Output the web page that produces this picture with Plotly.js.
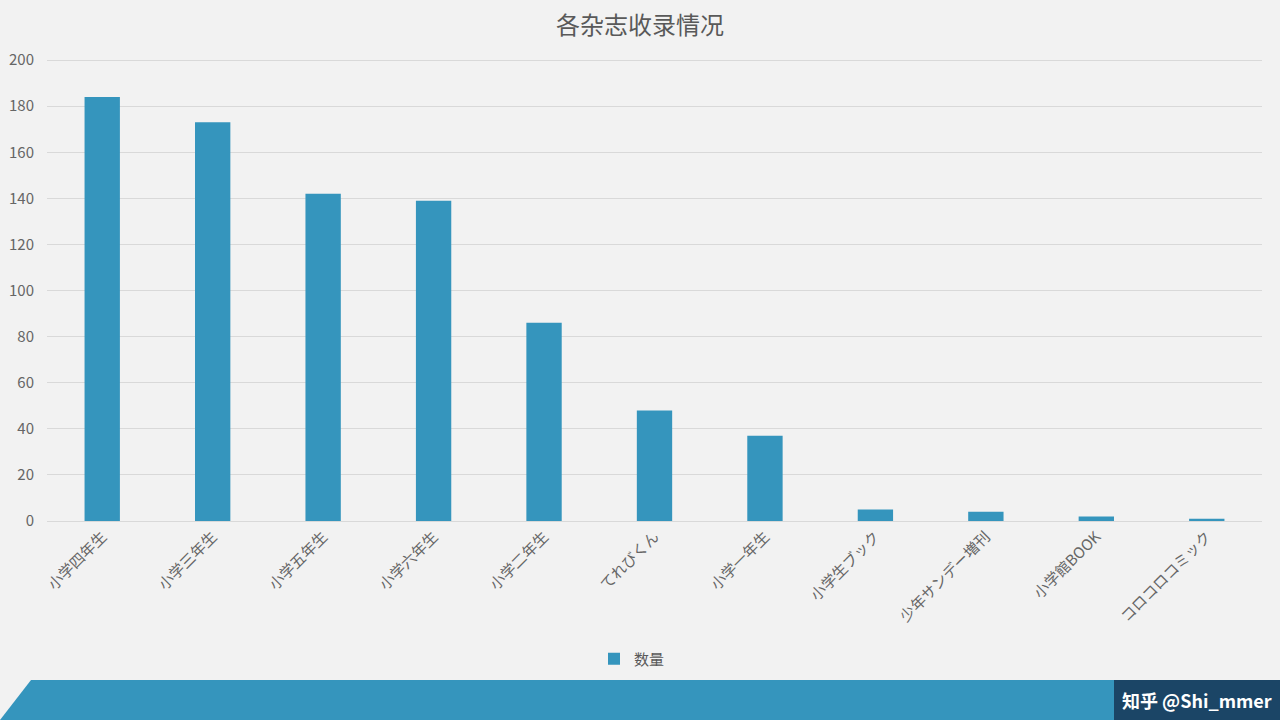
<!DOCTYPE html>
<html><head><meta charset="utf-8">
<script src="https://cdn.plot.ly/plotly-3.0.1.min.js"></script>
<style>html,body{margin:0;padding:0;background:#f2f2f2;}#chart{width:1280px;height:720px;}</style>
</head><body><div id="chart"></div>
<script>
const categories = ["小学四年生","小学三年生","小学五年生","小学六年生","小学二年生","てれびくん","小学一年生","小学生ブック","少年サンデー増刊","小学館BOOK","コロコロコミック"];
const counts = [184,173,142,139,86,48,37,5,4,2,1];
const seriesName = "数量";
const chartTitle = "各杂志收录情况";
const watermark = "知乎 @Shi_mmer";

const W=1280,H=720,L=47,R=18,T=59,B=199;
const pw=W-L-R, ph=H-T-B;
const px=x=>(x-L)/pw, py=y=>(H-B-y)/ph;
const font="'Noto Sans CJK SC','Noto Sans',sans-serif";

const data=[{type:'bar',x:categories,y:counts,name:seriesName,marker:{color:'#3595bd'},showlegend:true}];
const layout={
  width:W,height:H,paper_bgcolor:'#f2f2f2',plot_bgcolor:'#f2f2f2',
  margin:{l:L,r:R,t:T,b:B,pad:0},
  font:{family:font,color:'#595959'},
  title:{text:chartTitle,font:{size:24,color:'#595959',family:font},x:0.5,xanchor:'center',y:0.965,yanchor:'middle'},
  bargap:0.68,
  xaxis:{tickangle:-45,tickfont:{size:15,color:'#666666'},showline:true,linecolor:'#d9d9d9',ticks:'',automargin:false,fixedrange:true},
  yaxis:{range:[0,200.5],tickvals:[0,20,40,60,80,100,120,140,160,180,200],tickfont:{size:15,color:'#666666'},gridcolor:'#d9d9d9',zeroline:false,ticks:'',ticklabelstandoff:12,automargin:false,fixedrange:true},
  showlegend:true,
  legend:{orientation:'h',x:px(632),xanchor:'center',y:py(659),yanchor:'middle',itemwidth:30,font:{size:15,color:'#595959'},bgcolor:'rgba(0,0,0,0)'},
  shapes:[
    {type:'path',xref:'paper',yref:'paper',path:`M ${px(31)} ${py(680)} L ${px(1280)} ${py(680)} L ${px(1280)} ${py(720)} L ${px(0)} ${py(720)} Z`,fillcolor:'#3595bd',line:{width:0},layer:'above'},
    {type:'rect',xref:'paper',yref:'paper',x0:px(1114),x1:px(1280),y0:py(680),y1:py(720),fillcolor:'#1b4566',line:{width:0},layer:'above'}
  ],
  annotations:[
    {xref:'paper',yref:'paper',x:px(1197),y:py(700),text:'<b>'+watermark+'</b>',showarrow:false,font:{size:18,color:'#ffffff',family:font},xanchor:'center',yanchor:'middle'}
  ]
};
Plotly.newPlot('chart',data,layout,{displayModeBar:false,staticPlot:true});
</script></body></html>
